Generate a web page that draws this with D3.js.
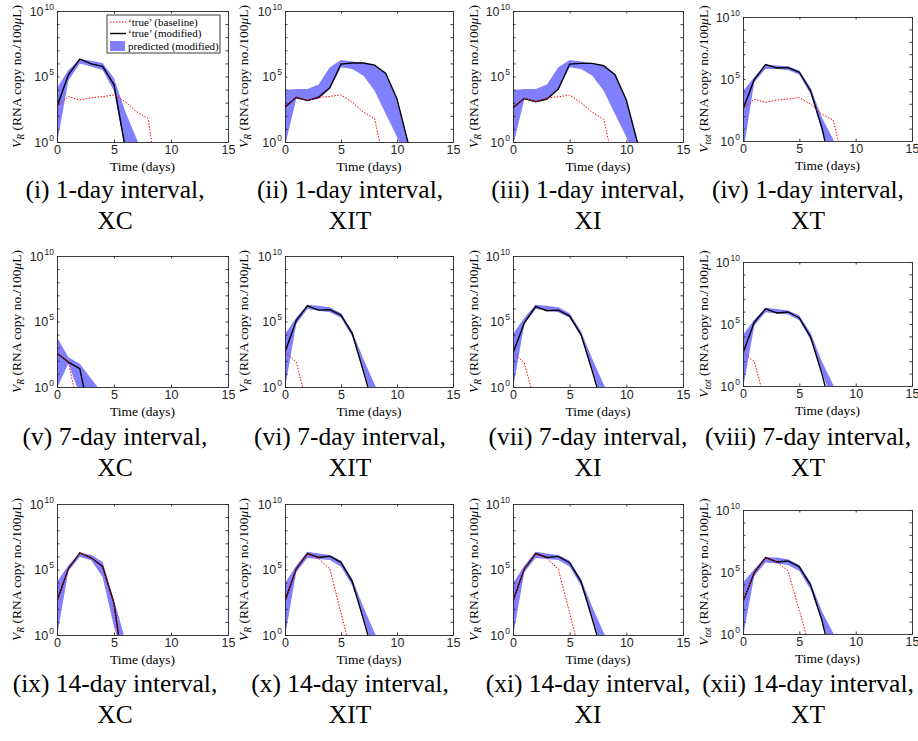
<!DOCTYPE html>
<html>
<head>
<meta charset="utf-8">
<script src="https://cdn.jsdelivr.net/npm/d3@7"></script>
<style>
    body { margin: 0; background: #fff; }
    svg { display: block; }
    .num { font-family: 'Liberation Sans', Arial, sans-serif; fill: #262626; }
    .serif { font-family: 'Liberation Serif', 'Times New Roman', serif; fill: #000; }
</style>
</head>
<body>
<svg id="chart" width="918" height="741"></svg>
<script>
// values per day (t = 0, 1, 2, ...), RNA copy no./100uL
// 1-day interval
const xc1Mod = [5.0e2, 1.35e5, 2.1e6, 9.3e5, 5.9e5, 2.3e4, 0.32];
const xc1Base = [5.0e2, 2.9e3, 1.6e3, 2.4e3, 2.9e3, 3.9e3, 1.2e3, 2.0e2, 62, 6e-5];
const xc1Hi = [1.26e4, 3.2e5, 2.1e6, 1.6e6, 1.07e6, 7.4e4, 2.0e2, 1.6, 0.01];
const xc1Lo = [0.8, 5.0e4, 1.0e6, 5.9e5, 3.2e5, 7.9e3, 0.16];

const xit1Mod = [4.6e2, 2.6e3, 1.45e3, 2.6e3, 1.35e4, 8.9e5, 1.07e6, 1.07e6, 7.4e5, 1.7e5, 1.95e3, 0.8];
const xit1Base = [4.6e2, 2.6e3, 1.45e3, 2.5e3, 3.0e3, 4.0e3, 1.1e3, 1.9e2, 59, 8e-3];
const xit1Hi = [9.3e3, 1.1e4, 1.1e4, 2.4e4, 5.0e5, 1.8e6, 1.4e6, 1.07e6, 6.6e5, 1.55e5, 1.45e3, 0.9];
const xit1Lo = [0.5, 1.95e3, 1.45e3, 1.95e3, 1.1e4, 5.0e5, 3.7e5, 1.15e5, 8.3e3, 1.4e2, 2.4, 0.03];

const xi1Mod = [4.2e2, 2.1e3, 1.2e3, 1.9e3, 1.1e4, 8.9e5, 1.0e6, 1.0e6, 6.6e5, 1.35e5, 1.6e3, 0.8];
const xi1Base = [4.2e2, 2.1e3, 1.2e3, 2.3e3, 2.8e3, 3.8e3, 1.0e3, 1.8e2, 55, 8e-3];
const xi1Hi = [9.3e3, 1.1e4, 1.1e4, 2.4e4, 5.0e5, 1.8e6, 1.4e6, 1.07e6, 6.6e5, 1.55e5, 1.45e3, 0.9];
const xi1Lo = [0.5, 1.8e3, 1.3e3, 1.8e3, 1.0e4, 5.0e5, 3.7e5, 1.15e5, 8.3e3, 1.4e2, 2.4, 0.03];

const xt1Mod = [3.7e2, 8.9e4, 1.45e6, 7.8e5, 8.3e5, 3.5e5, 1.1e4, 12, 1e-3];
const xt1Base = [3.7e2, 2.4e3, 1.3e3, 2.0e3, 2.4e3, 3.2e3, 9.3e2, 1.45e2, 50, 0.01];
const xt1Hi = [1.1e4, 1.4e5, 1.45e6, 1.2e6, 1.07e6, 4.8e5, 1.9e4, 79, 1.4, 0.01];
const xt1Lo = [0.1, 5.4e4, 6.5e5, 6.5e5, 5.4e5, 2.2e5, 6.0e3, 6.3, 0.01];

// 7-day interval
const xc7Mod = [3.8e2, 79, 25, 1.6e-3];
const xc7Base = [3.8e2, 79, 6.3e-3];
const xc7Hi = [6.3e3, 1.9e2, 59, 4.3, 0.32];
const xc7Lo = [0.8, 63, 0.25];

const xit7Mod = [4.6e2, 1.15e5, 1.6e6, 7.4e5, 7.9e5, 3.1e5, 1.26e4, 16, 0.016];
const xit7Base = [4.6e2, 79, 0.04];
const xit7Hi = [1.1e4, 1.9e5, 1.9e6, 1.6e6, 1.2e6, 4.2e5, 1.8e4, 1.4e2, 1.6, 0.03];
const xit7Lo = [0.8, 6.5e4, 8.9e5, 6.6e5, 5.0e5, 1.9e5, 7.1e3, 25, 0.03];

const xi7Mod = [4.0e2, 7.8e4, 1.4e6, 6.6e5, 7.4e5, 2.6e5, 1.0e4, 16, 0.016];
const xi7Base = [4.0e2, 71, 0.04];
const xi7Hi = [1.1e4, 1.9e5, 1.9e6, 1.6e6, 1.2e6, 4.2e5, 1.8e4, 1.4e2, 1.6, 0.03];
const xi7Lo = [0.8, 6.5e4, 8.9e5, 6.6e5, 5.0e5, 1.9e5, 7.1e3, 25, 0.03];

const xt7Mod = [4.5e2, 1.4e5, 1.65e6, 7.8e5, 9.3e5, 3.1e5, 8.9e3, 10, 3e-3];
const xt7Base = [4.5e2, 93, 0.04];
const xt7Hi = [1.35e4, 2.2e5, 2.0e6, 1.65e6, 1.2e6, 4.8e5, 1.9e4, 93, 1.26, 0.03];
const xt7Lo = [0.63, 7.2e4, 8.9e5, 6.9e5, 5.8e5, 2.0e5, 5.4e3, 14, 0.03];

// 14-day interval
const xc14Mod = [4.0e2, 1.15e5, 1.9e6, 7.9e5, 1.7e5, 2.6e2, 1.6e-4];
const xc14Base = [4.0e2, 1.15e5, 1.9e6, 7.9e5, 1.7e5, 2.6e2, 1.6e-4];
const xc14Hi = [1.1e4, 2.1e5, 1.8e6, 1.35e6, 3.7e5, 4.6e2, 0.4];
const xc14Lo = [0.8, 7.8e4, 8.9e5, 5.0e5, 2.7e4, 4.3, 0.01];

const xit14Mod = [4.0e2, 1.1e5, 1.65e6, 8.3e5, 1.05e6, 3.5e5, 1.26e4, 16, 0.016];
const xit14Base = [4.0e2, 1.1e5, 1.65e6, 7.1e5, 1.1e5, 50, 0.02];
const xit14Hi = [8.9e3, 1.95e5, 2.3e6, 1.65e6, 1.3e6, 4.7e5, 1.9e4, 1.4e2, 1.5, 0.03];
const xit14Lo = [0.8, 6.2e4, 7.4e5, 6.2e5, 5.2e5, 1.6e5, 6.0e3, 25, 0.03];

const xi14Mod = [4.0e2, 1.1e5, 1.65e6, 8.3e5, 1.0e6, 3.3e5, 1.2e4, 16, 0.016];
const xi14Base = [4.0e2, 1.1e5, 1.65e6, 7.1e5, 1.05e5, 45, 0.02];
const xi14Hi = [8.9e3, 1.95e5, 2.3e6, 1.65e6, 1.3e6, 4.7e5, 1.9e4, 1.4e2, 1.5, 0.03];
const xi14Lo = [0.8, 6.2e4, 7.4e5, 6.2e5, 5.2e5, 1.6e5, 6.0e3, 25, 0.03];

const xt14Mod = [3.9e2, 8.9e4, 1.45e6, 6.5e5, 7.8e5, 2.6e5, 8.9e3, 12.6, 3e-3];
const xt14Base = [3.9e2, 8.9e4, 1.45e6, 6.5e5, 1.2e5, 79, 0.05];
const xt14Hi = [1.4e4, 1.65e5, 1.65e6, 1.45e6, 1.07e6, 3.7e5, 1.4e4, 69, 1.2, 0.03];
const xt14Lo = [0.63, 4.8e4, 5.8e5, 4.8e5, 3.7e5, 1.2e5, 3.9e3, 10.7, 0.03];

const xTicks = [0, 5, 10, 15];
const yLabelled = [0, 5, 10];
const legendLabels = ['\u2018true\u2019 (baseline)', '\u2018true\u2019 (modified)', 'predicted (modified)'];
const tags = ['(i)', '(ii)', '(iii)', '(iv)', '(v)', '(vi)', '(vii)', '(viii)', '(ix)', '(x)', '(xi)', '(xii)'];
const intervals = ['1-day', '7-day', '14-day'];
const models = ['XC', 'XIT', 'XI', 'XT'];

const series = [
    [xc1Mod, xc1Base, xc1Hi, xc1Lo], [xit1Mod, xit1Base, xit1Hi, xit1Lo],
    [xi1Mod, xi1Base, xi1Hi, xi1Lo], [xt1Mod, xt1Base, xt1Hi, xt1Lo],
    [xc7Mod, xc7Base, xc7Hi, xc7Lo], [xit7Mod, xit7Base, xit7Hi, xit7Lo],
    [xi7Mod, xi7Base, xi7Hi, xi7Lo], [xt7Mod, xt7Base, xt7Hi, xt7Lo],
    [xc14Mod, xc14Base, xc14Hi, xc14Lo], [xit14Mod, xit14Base, xit14Hi, xit14Lo],
    [xi14Mod, xi14Base, xi14Hi, xi14Lo], [xt14Mod, xt14Base, xt14Hi, xt14Lo]
];

// layout
const colLeft = [57, 285, 513, 743];
const colWidth = [171, 168, 170, 169];
const rowTop = [11, 256, 504];
const plotHeight = 131;
const yLabelOffset = [36, 37, 35, 35];
const captionX = [115, 350, 588, 808];
const captionY = [198, 445, 692];

const BLUE = '#8080ff';
const AXIS = '#262626';

const svg = d3.select('#chart');

function drawPanel(idx) {
    const row = Math.floor(idx / 4);
    const col = idx % 4;
    const [mod, base, hi, lo] = series[idx];
    const total = col === 3;

    const left = colLeft[col];
    const width = colWidth[col];
    const top = rowTop[row] + (total ? 6 : 0);
    const height = plotHeight - (total ? 7 : 0);

    const x = d3.scaleLinear().domain([0, 15]).range([left, left + width]);
    const y = d3.scaleLog().domain([1, 1e10]).range([top + height, top]);

    const g = svg.append('g');
    const clipId = `clip-${idx}`;
    g.append('clipPath').attr('id', clipId)
        .append('rect')
        .attr('x', left).attr('y', top)
        .attr('width', width).attr('height', height);

    const plot = g.append('g').attr('clip-path', `url(#${clipId})`);

    // prediction band: upper edge forward, lower edge back
    const band = hi.map((v, i) => [i, v]).concat(lo.map((v, i) => [i, v]).reverse());
    plot.append('path')
        .attr('d', d3.line().x(d => x(d[0])).y(d => y(d[1]))(band) + 'Z')
        .attr('fill', BLUE);

    const line = d3.line().x((d, i) => x(i)).y(d => y(d));
    plot.append('path')
        .attr('d', line(mod))
        .attr('fill', 'none')
        .attr('stroke', '#000')
        .attr('stroke-width', 1.4);
    plot.append('path')
        .attr('d', line(base))
        .attr('fill', 'none')
        .attr('stroke', '#ff0000')
        .attr('stroke-width', 1)
        .attr('stroke-dasharray', '1.5,1.5');

    // axes, ticks inward on all four sides
    const decades = d3.range(0, 11).map(k => Math.pow(10, k));
    const axes = [
        [d3.axisLeft(y).tickValues(decades).tickFormat(''), `translate(${left},0)`],
        [d3.axisRight(y).tickValues(decades).tickFormat(''), `translate(${left + width},0)`],
        [d3.axisTop(x).tickValues(xTicks).tickFormat(''), `translate(0,${top})`],
        [d3.axisBottom(x).tickValues(xTicks).tickPadding(3.5), `translate(0,${top + height})`]
    ];
    axes.forEach(([axis, tr]) => {
        const a = g.append('g')
            .attr('transform', tr)
            .call(axis.tickSizeInner(-2.5).tickSizeOuter(0));
        a.selectAll('.domain, .tick line').attr('stroke', AXIS).attr('stroke-width', 0.9);
        a.selectAll('text')
            .attr('class', 'num')
            .attr('font-size', 12.5);
        a.attr('font-family', null).attr('font-size', null);
    });

    // 10^k labels
    yLabelled.forEach(k => {
        const t = g.append('text')
            .attr('class', 'num')
            .attr('x', left - 3)
            .attr('y', y(Math.pow(10, k)) + 4.5)
            .attr('text-anchor', 'end')
            .attr('font-size', 12.5);
        t.append('tspan').text('10');
        t.append('tspan').attr('dx', 1).attr('dy', -6).attr('font-size', 8.5).text(k);
    });

    g.append('text')
        .attr('class', 'serif')
        .attr('x', left + width / 2)
        .attr('y', top + height + 29)
        .attr('text-anchor', 'middle')
        .attr('font-size', 13.5)
        .text('Time (days)');

    const yl = g.append('text')
        .attr('class', 'serif')
        .attr('transform', `translate(${left - yLabelOffset[col]},${top + height / 2}) rotate(-90)`)
        .attr('text-anchor', 'middle')
        .attr('font-size', 13.5);
    yl.append('tspan').attr('font-style', 'italic').text('V');
    yl.append('tspan').attr('font-style', 'italic').attr('font-size', 9.5).attr('dy', 3).text(total ? 'tot' : 'R');
    yl.append('tspan').attr('dy', -3).text(' (RNA copy no./100');
    yl.append('tspan').attr('font-style', 'italic').text('\u03bc');
    yl.append('tspan').text('L)');

    if (idx === 0) drawLegend(g, left, top);

    // sub-caption
    svg.append('text')
        .attr('class', 'serif')
        .attr('x', captionX[col])
        .attr('y', captionY[row])
        .attr('text-anchor', 'middle')
        .attr('font-size', 25.5)
        .text(`${tags[idx]} ${intervals[row]} interval,`);
    svg.append('text')
        .attr('class', 'serif')
        .attr('x', captionX[col])
        .attr('y', captionY[row] + 31)
        .attr('text-anchor', 'middle')
        .attr('font-size', 25.5)
        .text(models[col]);
}

function drawLegend(g, left, top) {
    const lg = g.append('g').attr('transform', `translate(${left + 50},${top + 4})`);
    lg.append('rect')
        .attr('width', 113).attr('height', 38)
        .attr('fill', '#fff')
        .attr('stroke', AXIS)
        .attr('stroke-width', 0.9);

    const rows = [7, 18.5, 31];
    lg.append('line')
        .attr('x1', 3).attr('x2', 19).attr('y1', rows[0]).attr('y2', rows[0])
        .attr('stroke', '#ff0000').attr('stroke-width', 1).attr('stroke-dasharray', '1.5,1.5');
    lg.append('line')
        .attr('x1', 3).attr('x2', 19).attr('y1', rows[1]).attr('y2', rows[1])
        .attr('stroke', '#000').attr('stroke-width', 1.4);
    lg.append('rect')
        .attr('x', 3).attr('y', rows[2] - 5).attr('width', 15).attr('height', 10)
        .attr('fill', BLUE);

    legendLabels.forEach((label, i) => {
        lg.append('text')
            .attr('class', 'serif')
            .attr('x', 21)
            .attr('y', rows[i] + 3.5)
            .attr('font-size', 11)
            .text(label);
    });
}

d3.range(12).forEach(drawPanel);
</script>
</body>
</html>
